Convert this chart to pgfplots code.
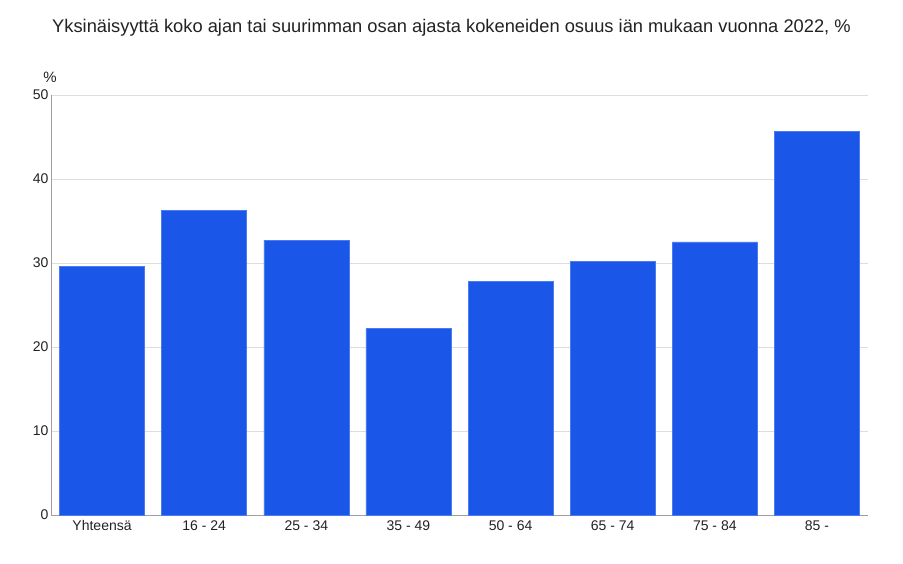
\documentclass[border=0pt]{standalone}
\usepackage{fontspec}
\setmainfont{Liberation Sans}
\usepackage{pgfplots}
\pgfplotsset{compat=1.18}

\definecolor{barblue}{HTML}{1A56E8}
\definecolor{baredge}{HTML}{4A7BF0}
\definecolor{gridgray}{HTML}{DDDDDD}
\definecolor{axisgray}{HTML}{A0A0A0}
\definecolor{txt}{HTML}{222222}

\begin{document}
\begin{tikzpicture}[x=1pt,y=1pt]
  \path[use as bounding box] (0,0) rectangle (903,563);
  \node[text=txt, font=\fontsize{18.3}{20}\selectfont] at (451.5,535)
    {Yksinäisyyttä koko ajan tai suurimman osan ajasta kokeneiden osuus iän mukaan vuonna 2022, \%};
  \node[text=txt, font=\fontsize{15}{17}\selectfont] at (50,486) {\%};
  \begin{axis}[
      at={(51pt,48pt)}, anchor=south west,
      scale only axis,
      width=817pt, height=420pt,
      xmin=-0.5, xmax=7.5,
      ymin=0, ymax=50,
      xtick=data,
      xticklabels={Yhteensä,16 - 24,25 - 34,35 - 49,50 - 64,65 - 74,75 - 84,85 -},
      ytick={0,10,...,50},
      ymajorgrids,
      grid style={gridgray, line width=0.8pt},
      major tick length=0pt,
      axis x line*=bottom,
      axis y line*=left,
      axis line style={axisgray, line width=0.9pt, -},
      tick label style={text=txt, font=\fontsize{14}{16}\selectfont},
      /pgf/number format/assume math mode=true,
      xticklabel style={yshift=-2pt},
      yticklabel style={xshift=1pt},
    ]
    \addplot[ybar, bar width=85pt, fill=barblue, draw=baredge, line width=0.6pt]
      coordinates {(0,29.6) (1,36.3) (2,32.7) (3,22.2) (4,27.8) (5,30.2) (6,32.5) (7,45.7)};
  \end{axis}
\end{tikzpicture}
\end{document}
